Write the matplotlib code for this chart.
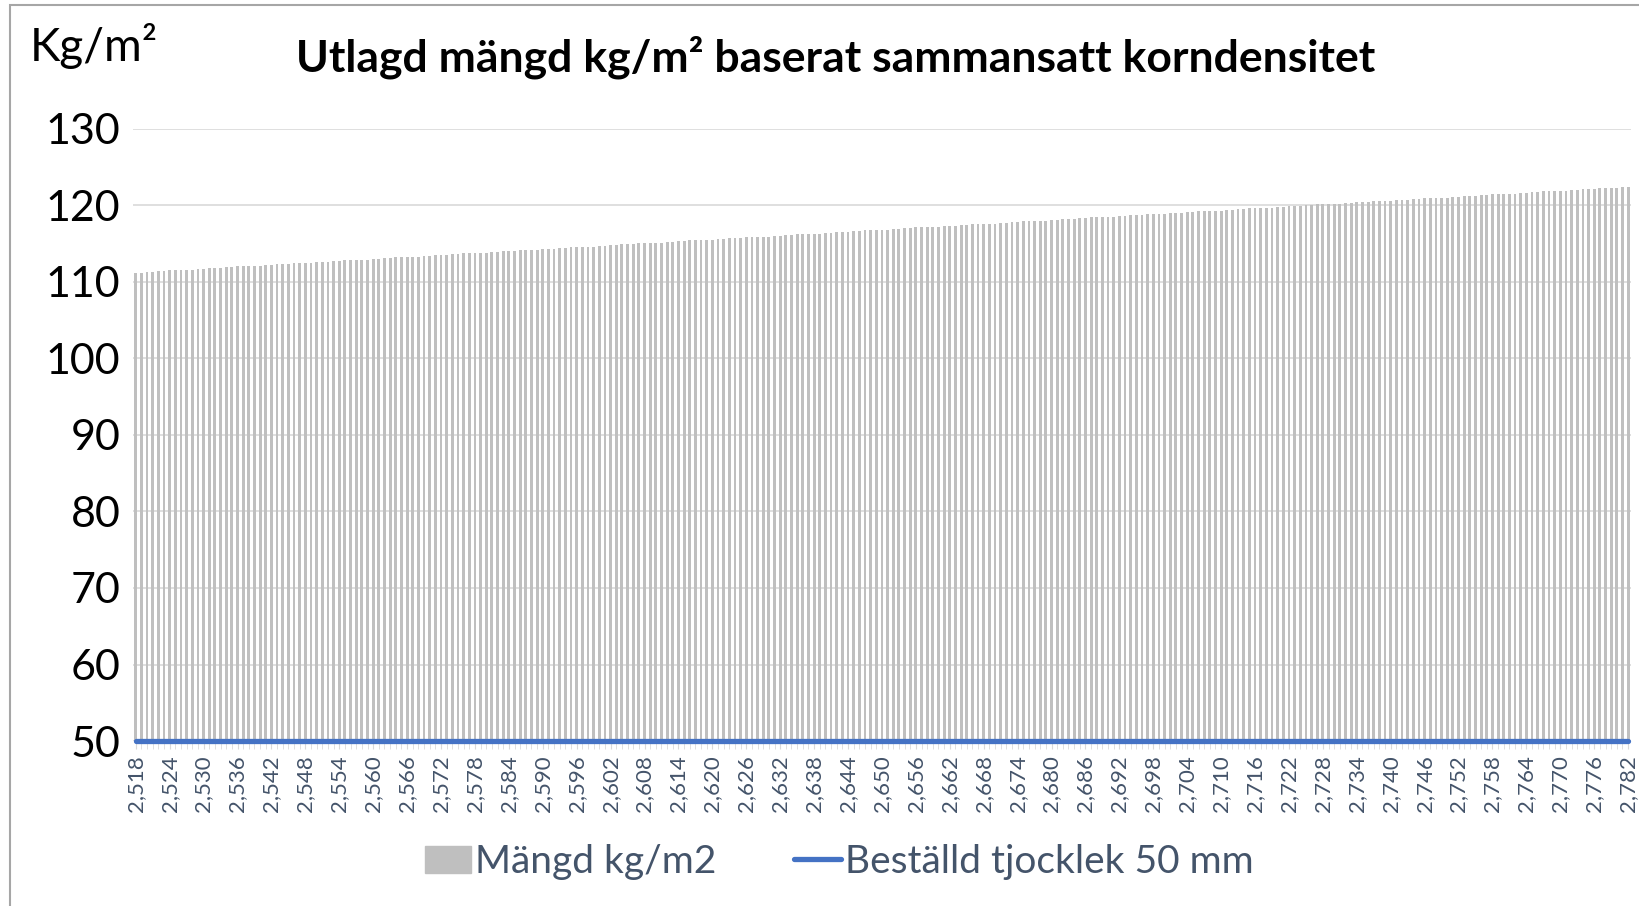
import matplotlib
matplotlib.use("Agg")
import matplotlib.pyplot as plt
from matplotlib.patches import Rectangle
from matplotlib.lines import Line2D

plt.rcParams['font.family'] = ['Lato', 'DejaVu Sans']

# korndensitet 2,518 ... 2,782 (steg 0,001)
densiteter = [f"2,{k}" for k in range(518, 783)]

mangd = [
    111.2, 111.2, 111.3, 111.3, 111.4, 111.4, 111.5, 111.5, 111.5, 111.6,
    111.6, 111.7, 111.7, 111.8, 111.8, 111.8, 111.9, 111.9, 112.0, 112.0,
    112.0, 112.1, 112.1, 112.2, 112.2, 112.3, 112.3, 112.3, 112.4, 112.4,
    112.5, 112.5, 112.6, 112.6, 112.6, 112.7, 112.7, 112.8, 112.8, 112.9,
    112.9, 112.9, 113.0, 113.0, 113.1, 113.1, 113.2, 113.2, 113.2, 113.3,
    113.3, 113.4, 113.4, 113.5, 113.5, 113.5, 113.6, 113.6, 113.7, 113.7,
    113.7, 113.8, 113.8, 113.9, 113.9, 114.0, 114.0, 114.0, 114.1, 114.1,
    114.2, 114.2, 114.3, 114.3, 114.3, 114.4, 114.4, 114.5, 114.5, 114.6,
    114.6, 114.6, 114.7, 114.7, 114.8, 114.8, 114.9, 114.9, 114.9, 115.0,
    115.0, 115.1, 115.1, 115.1, 115.2, 115.2, 115.3, 115.3, 115.4, 115.4,
    115.4, 115.5, 115.5, 115.6, 115.6, 115.7, 115.7, 115.7, 115.8, 115.8,
    115.9, 115.9, 115.9, 116.0, 116.0, 116.1, 116.1, 116.2, 116.2, 116.2,
    116.3, 116.3, 116.4, 116.4, 116.5, 116.5, 116.5, 116.6, 116.6, 116.7,
    116.7, 116.8, 116.8, 116.8, 116.9, 116.9, 117.0, 117.0, 117.1, 117.1,
    117.1, 117.2, 117.2, 117.3, 117.3, 117.3, 117.4, 117.4, 117.5, 117.5,
    117.6, 117.6, 117.6, 117.7, 117.7, 117.8, 117.8, 117.9, 117.9, 117.9,
    118.0, 118.0, 118.1, 118.1, 118.2, 118.2, 118.2, 118.3, 118.3, 118.4,
    118.4, 118.5, 118.5, 118.5, 118.6, 118.6, 118.7, 118.7, 118.7, 118.8,
    118.8, 118.9, 118.9, 119.0, 119.0, 119.0, 119.1, 119.1, 119.2, 119.2,
    119.3, 119.3, 119.3, 119.4, 119.4, 119.5, 119.5, 119.6, 119.6, 119.6,
    119.7, 119.7, 119.8, 119.8, 119.9, 119.9, 119.9, 120.0, 120.0, 120.1,
    120.1, 120.1, 120.2, 120.2, 120.3, 120.3, 120.4, 120.4, 120.4, 120.5,
    120.5, 120.6, 120.6, 120.7, 120.7, 120.7, 120.8, 120.8, 120.9, 120.9,
    121.0, 121.0, 121.0, 121.1, 121.1, 121.2, 121.2, 121.2, 121.3, 121.3,
    121.4, 121.4, 121.5, 121.5, 121.5, 121.6, 121.6, 121.7, 121.7, 121.8,
    121.8, 121.8, 121.9, 121.9, 122.0, 122.0, 122.1, 122.1, 122.1, 122.2,
    122.2, 122.3, 122.3, 122.4, 122.4,
]
bestalld = [50] * len(densiteter)

grå = "#bfbfbf"
blå = "#4472c4"
textfarg = "#44546a"

fig = plt.figure(figsize=(16.39, 9.06), dpi=100)
ax = fig.add_axes([0.0811, 0.182, 0.914, 0.676])

x = list(range(len(densiteter)))
ax.bar(x, mangd, width=0.5, bottom=0, color=grå, zorder=2)
ax.plot(x, bestalld, color=blå, lw=3.8, solid_capstyle="round", zorder=3,
        clip_on=False)

ax.set_ylim(50, 130)
ax.set_xlim(-0.5, len(densiteter) - 0.5)
ax.set_yticks(range(50, 131, 10))
ax.tick_params(axis="y", length=0, labelsize=31, pad=9, labelcolor="black")
ax.grid(axis="y", color="#d9d9d9", lw=1.2, zorder=0)
ax.set_axisbelow(True)

ax.set_xticks(x, minor=True)
ax.set_xticks(x[::6])
ax.set_xticklabels(densiteter[::6], rotation=90, fontsize=16, color=textfarg)
ax.tick_params(axis="x", which="both", length=6, color="#d9d9d9", pad=4)

for s in ax.spines.values():
    s.set_visible(False)

fig.text(0.51, 0.937, "Utlagd mängd kg/m² baserat sammansatt korndensitet",
         ha="center", va="center", fontsize=32, fontweight="bold")
fig.text(0.018, 0.949, "Kg/m²", ha="left", va="center", fontsize=33)

handles = [Rectangle((0, 0), 1, 1, color=grå),
           Line2D([0], [0], color=blå, lw=3.8, solid_capstyle="round")]
fig.legend(handles, ["Mängd kg/m2", "Beställd tjocklek 50 mm"],
           loc="center", bbox_to_anchor=(0.512, 0.0486), ncol=2, frameon=False,
           fontsize=28, labelcolor=textfarg, handlelength=1.2,
           handletextpad=0.1, columnspacing=2.0)

fig.patches.append(Rectangle((0.006, -0.05), 1.2, 1.0445, transform=fig.transFigure,
                             fill=False, edgecolor="#a6a6a6", lw=1.5))

fig.savefig("out.png", dpi=100)
